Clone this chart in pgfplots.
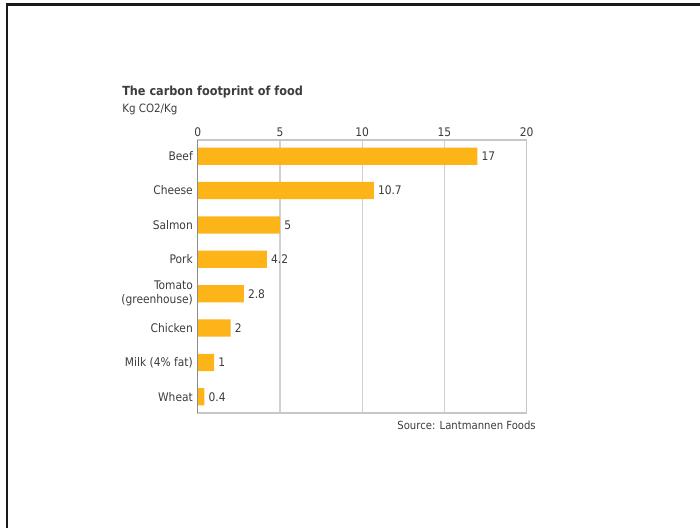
\documentclass[border=0pt]{standalone}
\usepackage{fontspec}
\setmainfont{DejaVu Sans Condensed}
\usepackage{pgfplots}
\pgfplotsset{compat=1.18}
\definecolor{barc}{RGB}{252,180,24}
\definecolor{txt}{RGB}{60,60,60}
\begin{document}
\begin{tikzpicture}
\path[use as bounding box] (0,0) rectangle (525pt,396pt);
\draw[line width=1.6pt, black!90] (5.25pt,0) -- (5.25pt,392.6pt) -- (525pt,392.6pt);
\node[anchor=base west, font=\bfseries\fontsize{9.4}{11}\selectfont, text=txt, inner sep=0] at (91.5pt,324.5pt) {The carbon footprint of food};
\node[anchor=base west, font=\fontsize{8.6}{10}\selectfont, text=txt, inner sep=0] at (91.5pt,311.5pt) {Kg CO2/Kg};
\node[anchor=base east, font=\fontsize{8.4}{10}\selectfont, text=txt, inner sep=0] at (402pt,74pt) {Source: Lantmannen Foods};
\begin{axis}[
  at={(148.3pt,86.25pt)}, anchor=south west,
  scale only axis, width=246.75pt, height=204.75pt,
  xbar, bar width=0.5,
  xmin=0, xmax=20, ymin=-0.47, ymax=7.47,
  y dir=reverse,
  xtick={0,5,10,15,20},
  xticklabel pos=upper,
  ytick={0,...,7},
  yticklabels={Beef,Cheese,Salmon,Pork,{Tomato\\(greenhouse)},Chicken,{Milk (4\% fat)},Wheat},
  yticklabel style={align=right, font=\fontsize{8.9}{10.5}\selectfont, text=txt, inner sep=2pt, xshift=-1.5pt},
  xticklabel style={font=\fontsize{8.9}{10}\selectfont, text=txt, inner sep=2pt},
  /pgf/number format/assume math mode=true,
  major tick length=0pt,
  xmajorgrids, grid style={draw=black!18, line width=0.8pt},
  axis line style={draw=black!22, line width=0.8pt},
  nodes near coords,
  nodes near coords style={anchor=west, font=\fontsize{8.9}{10}\selectfont, text=txt, inner sep=3pt},
  clip=false,
]
\addplot[draw=none, fill=barc] coordinates {(17,0) (10.7,1) (5,2) (4.2,3) (2.8,4) (2,5) (1,6) (0.4,7)};
\draw[black!45, line width=0.8pt] (axis cs:0,-0.47) -- (axis cs:0,7.47);
\end{axis}
\end{tikzpicture}
\end{document}
